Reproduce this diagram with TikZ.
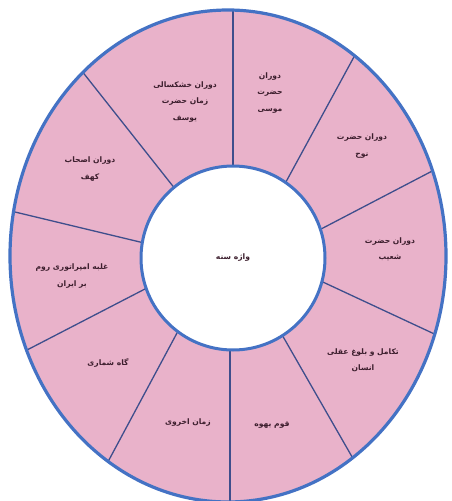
\documentclass[tikz,border=0pt]{standalone}
\usepackage{fontspec}
\newfontfamily\arabicfont[Script=Arabic]{DejaVu Sans}
\TeXXeTstate=1
\definecolor{ringpink}{RGB}{233,178,202}
\definecolor{rimblue}{RGB}{68,114,196}
\definecolor{divblue}{RGB}{62,78,140}
\definecolor{txtcol}{RGB}{60,30,45}
\newcommand{\fa}[1]{{\arabicfont\bfseries\beginR #1\endR}}
\tikzset{
  lbl/.style={align=center, text=txtcol, font=\fontsize{7.6}{16.5}\selectfont, inner sep=0pt},
  divider/.style={draw=divblue, line width=1.3pt, shorten <=-6pt, shorten >=-6pt}
}
\begin{document}
\begin{tikzpicture}[x=1pt,y=-1pt]
\useasboundingbox (0,0) rectangle (452,501);
\clip (0,0) rectangle (452,501);
% ring fill
\fill[ringpink] (228,256) ellipse [x radius=218pt, y radius=246pt];
% divider end points
\coordinate (o1) at (233,10);   \coordinate (i1) at (233,166);
\coordinate (o2) at (355,55);   \coordinate (i2) at (287,180);
\coordinate (o3) at (438,168);  \coordinate (i3) at (323,228);
\coordinate (o4) at (443,338);  \coordinate (i4) at (325,283);
\coordinate (o5) at (355,462);  \coordinate (i5) at (285,340);
\coordinate (o6) at (230,501);  \coordinate (i6) at (230,353);
\coordinate (o7) at (110,458);  \coordinate (i7) at (177,333);
\coordinate (o8) at (27,350);   \coordinate (i8) at (143,290);
\coordinate (o9) at (15,212);   \coordinate (i9) at (140,242);
\coordinate (o10) at (85,75);   \coordinate (i10) at (172,185);
\begin{scope}
  \clip (228,256) ellipse [x radius=218pt, y radius=246pt];
  \foreach \k in {1,...,10} { \draw[divider] (i\k) -- (o\k); }
\end{scope}
% inner circle
\node[circle, draw=rimblue, fill=white, line width=3pt, minimum size=184pt, inner sep=0pt] (hub) at (233,258) {};
\node[lbl] (c) at (233,258) {\fa{واژه سنه}};
% outer rim
\draw[rimblue, line width=3.2pt] (228,256) ellipse [x radius=218pt, y radius=246pt];
% labels
\node[lbl] (t1) at (185,102) {\fa{دوران خشکسالی}\\\fa{زمان حضرت}\\\fa{یوسف}};
\node[lbl] (t2) at (270,93) {\fa{دوران}\\\fa{حضرت}\\\fa{موسی}};
\node[lbl] (t3) at (362,146) {\fa{دوران حضرت}\\\fa{نوح}};
\node[lbl] (t4) at (390,249) {\fa{دوران حضرت}\\\fa{شعیب}};
\node[lbl] (t5) at (363,360) {\fa{تکامل و بلوغ عقلی}\\\fa{انسان}};
\node[lbl] (t6) at (272,425) {\fa{قوم یهوه}};
\node[lbl] (t7) at (188,423) {\fa{زمان اخروی}};
\node[lbl] (t8) at (108,363) {\fa{گاه شماری}};
\node[lbl] (t9) at (72,276) {\fa{غلبه امپراتوری روم}\\\fa{بر ایران}};
\node[lbl] (t10) at (90,169) {\fa{دوران اصحاب}\\\fa{کهف}};
\end{tikzpicture}
\end{document}
